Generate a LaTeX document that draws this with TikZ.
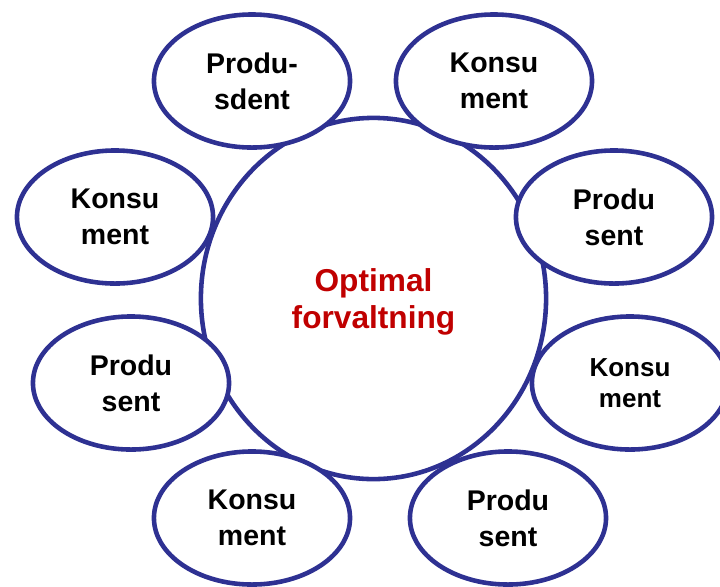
\documentclass[tikz,border=0pt]{standalone}
\usepackage{fontspec}
\setmainfont{Liberation Sans}
\usetikzlibrary{shapes.geometric}
\definecolor{ringblue}{RGB}{46,49,146}
\definecolor{optred}{RGB}{192,0,0}
\begin{document}
\begin{tikzpicture}%
	[x=0.01cm, y=-0.01cm,
	ring/.style={draw=ringblue, line width=1.3pt, ellipse, inner sep=0pt},
	hub/.style={ring, minimum width=3.45cm, minimum height=3.61cm, text depth=0pt,
		text=optred, align=center, font=\bfseries\fontsize{9}{10.5}\selectfont},
	actor/.style={ring, fill=white, minimum width=1.96cm, minimum height=1.33cm,
		align=center, font=\bfseries\fontsize{8.1}{10.2}\selectfont},
	small/.style={font=\bfseries\fontsize{7.4}{8.8}\selectfont}]
%
\useasboundingbox (0,0) rectangle (720,587);
%%
%% The hub in the middle
%%
\node[hub] (opt) at (373.5,298.5) {Optimal\\forvaltning};
%%
%% The ring of actors, drawn on top
%%
\node[actor] (prodTL) at (252,81)  {Produ-\\sdent};
\node[actor] (konsTR) at (494,81)  {Konsu\\ment};
\node[actor] (prodR)  at (614,217) {Produ\\sent};
\node[actor,small] (konsR) at (630,383) {Konsu\\ment};
\node[actor] (prodBR) at (508,518) {Produ\\sent};
\node[actor] (konsBL) at (252,518) {Konsu\\ment};
\node[actor] (prodL)  at (131,383) {Produ\\sent};
\node[actor] (konsL)  at (115,217) {Konsu\\ment};
%%
\end{tikzpicture}
\end{document}
